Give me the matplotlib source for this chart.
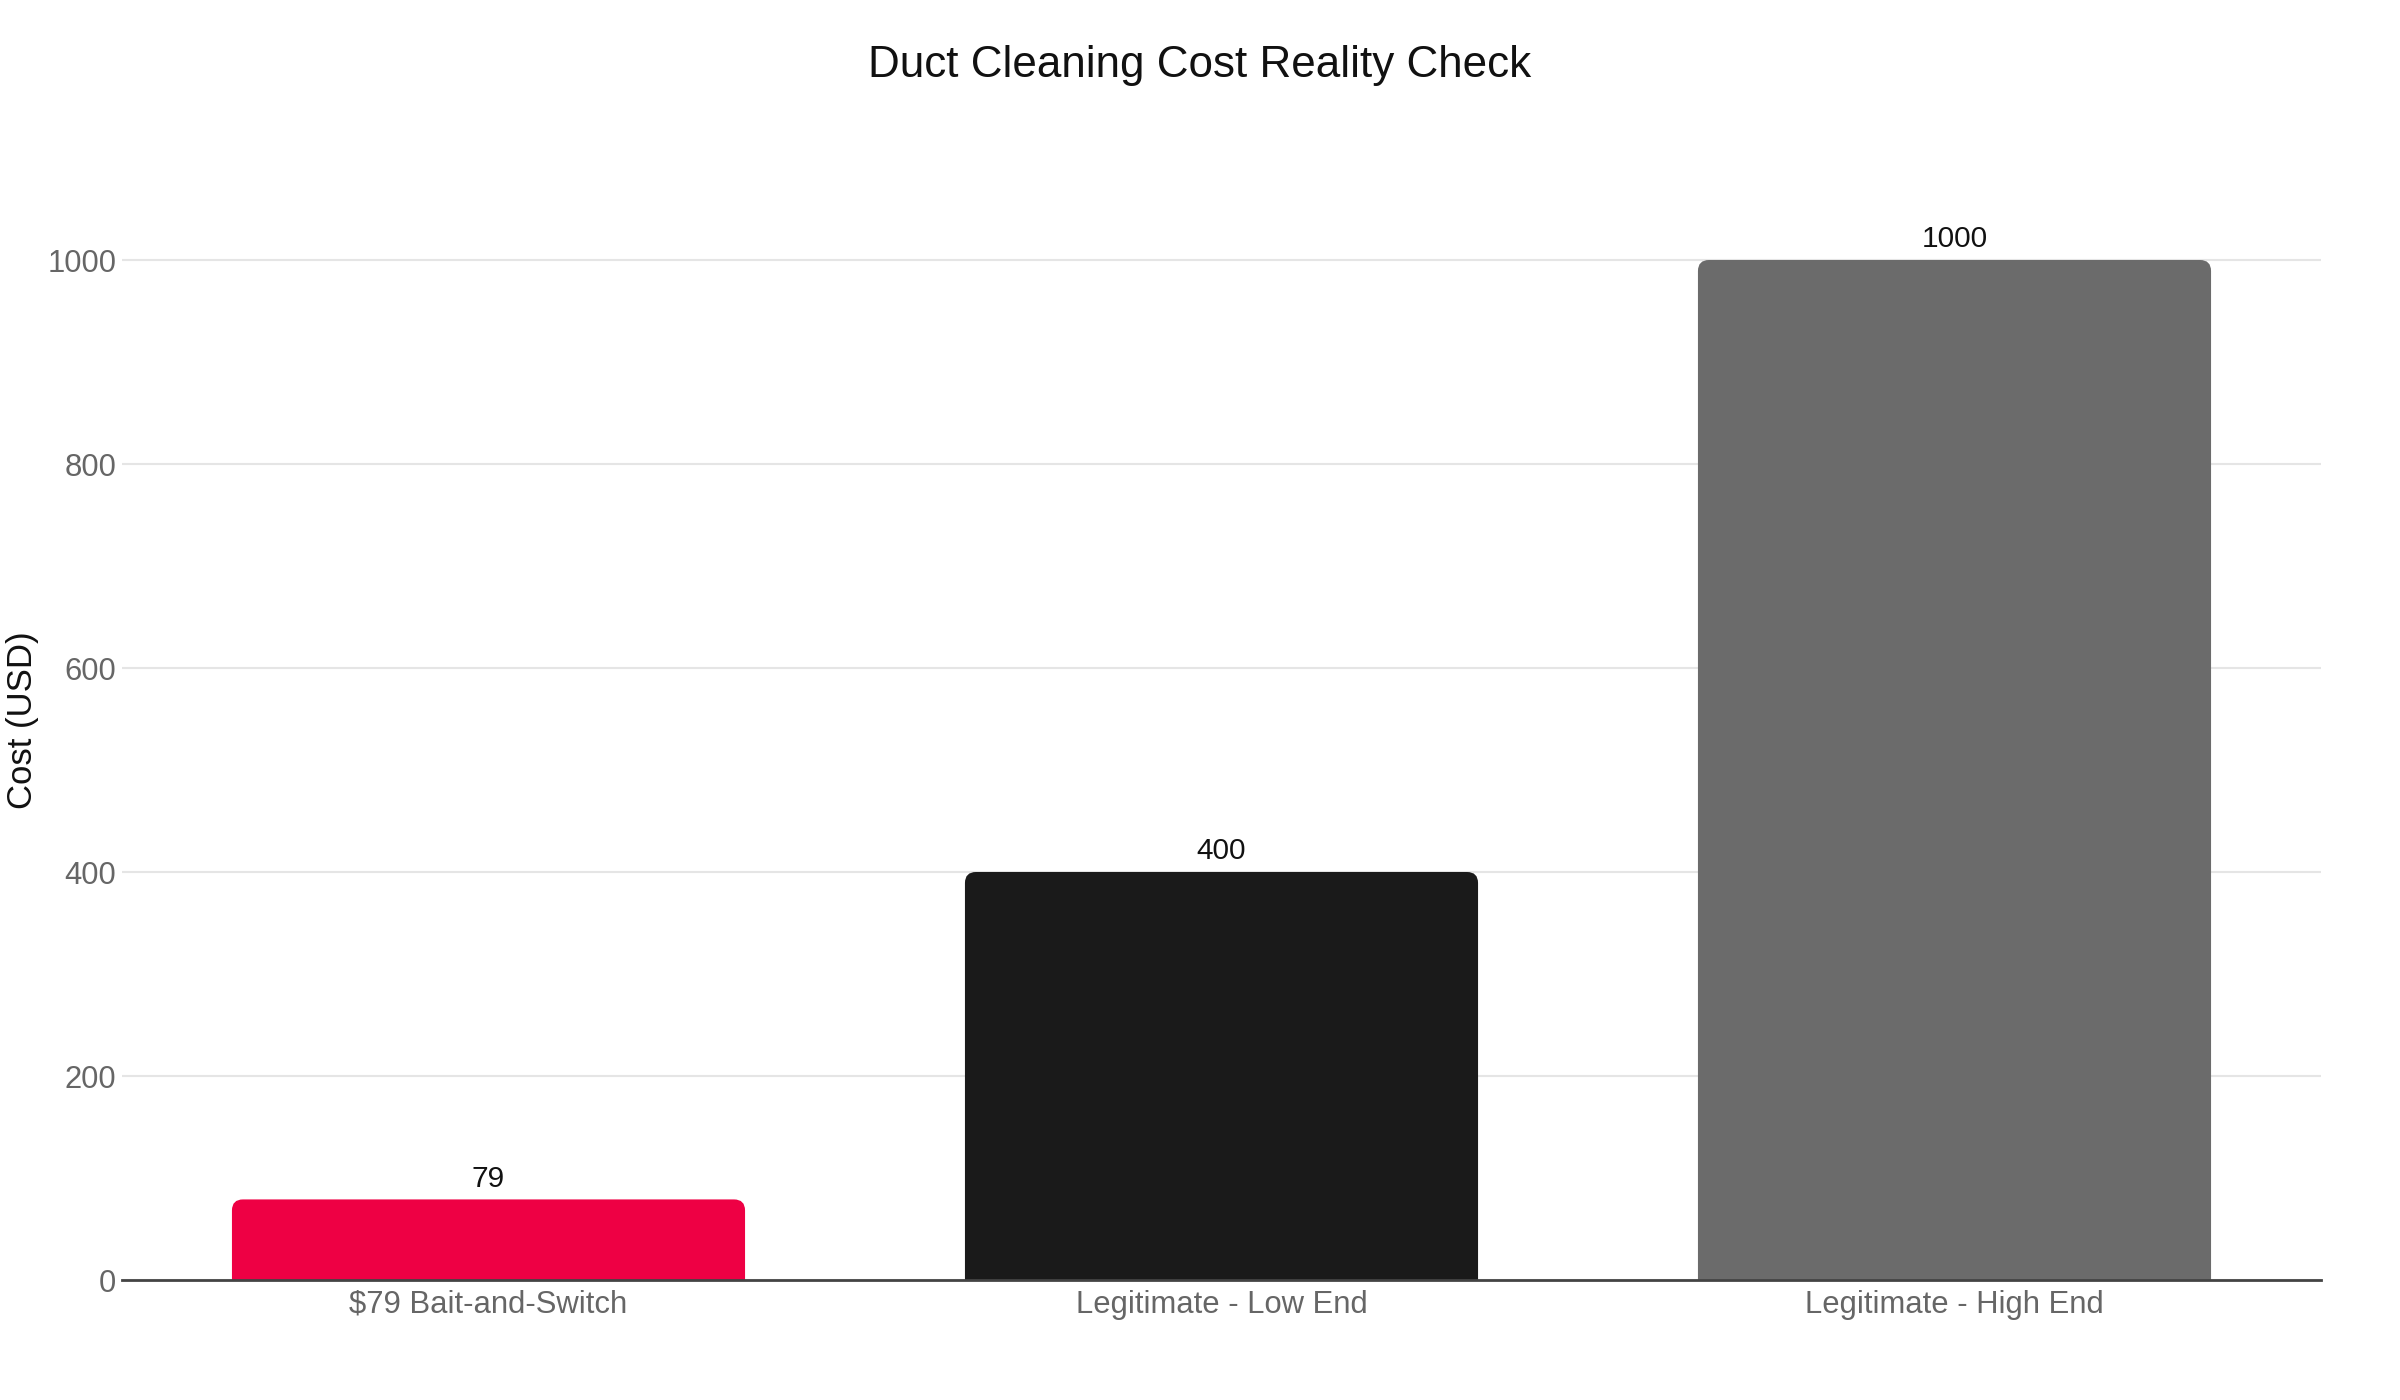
import matplotlib
matplotlib.use("Agg")
import matplotlib.pyplot as plt
from matplotlib.path import Path
from matplotlib.patches import PathPatch

plt.rcParams['font.family'] = ['Liberation Sans', 'DejaVu Sans']

categories = ["$79 Bait-and-Switch", "Legitimate - Low End", "Legitimate - High End"]
costs = [79, 400, 1000]
colors = ["#EE0044", "#1A1A1A", "#6B6B6B"]
yticks = [0, 200, 400, 600, 800, 1000]

W, H, DPI = 24, 14, 100
fig = plt.figure(figsize=(W, H), dpi=DPI)
# plot area in pixels
left_px, right_px, top_px, bottom_px = 122, 2321, 160, 1280
ax = fig.add_axes([left_px / 2400, 1 - bottom_px / 1400,
                   (right_px - left_px) / 2400, (bottom_px - top_px) / 1400])

x = list(range(len(categories)))
bars = ax.bar(x, costs, width=0.7, color=colors)
ymax = 1000 + (260 - top_px) / 1.02
ax.set_xlim(-0.5, len(categories) - 0.5)
ax.set_ylim(0, ymax)

# rounded top corners
px_per_x = (right_px - left_px) / (len(categories))
px_per_y = (bottom_px - top_px) / ymax
r = 11
for b, c in zip(bars, colors):
    b.set_visible(False)
    x0, y0 = b.get_x(), b.get_y()
    w, h = b.get_width(), b.get_height()
    rx = r / px_per_x
    ry = min(r / px_per_y, h)
    x1, y1 = x0 + w, y0 + h
    verts = [(x0, y0), (x0, y1 - ry), (x0, y1), (x0 + rx, y1),
             (x1 - rx, y1), (x1, y1), (x1, y1 - ry), (x1, y0), (x0, y0)]
    codes = [Path.MOVETO, Path.LINETO, Path.CURVE3, Path.CURVE3,
             Path.LINETO, Path.CURVE3, Path.CURVE3, Path.LINETO, Path.CLOSEPOLY]
    ax.add_patch(PathPatch(Path(verts, codes), facecolor=c, edgecolor='none', zorder=2))

for xi, v in zip(x, costs):
    ax.annotate(str(v), (xi, v), xytext=(0, 15), textcoords='offset points',
                ha='center', va='center', fontsize=21.5, color='#111111')

ax.set_yticks(yticks)
ax.set_xticks(x)
ax.set_xticklabels(categories)
ax.tick_params(axis='both', length=0, labelsize=22.3, labelcolor='#666666')
ax.tick_params(axis='x', pad=7)
ax.tick_params(axis='y', pad=4)
ax.grid(axis='y', color='#E5E5E5', linewidth=1.5, zorder=0)
ax.set_axisbelow(True)
for s in ['top', 'right', 'left']:
    ax.spines[s].set_visible(False)
ax.spines['bottom'].set_color('#444444')
ax.spines['bottom'].set_linewidth(2)
ax.spines['bottom'].set_zorder(3)

fig.text(23 / 2400, 1 - 720 / 1400, "Cost (USD)", rotation=90, ha='center', va='center',
         fontsize=25, color='#111111')

fig.text(0.5, 1 - 66 / 1400, "Duct Cleaning Cost Reality Check", ha='center', va='center',
         fontsize=31.7, color='#111111')

fig.savefig("out.png", dpi=DPI, facecolor='white')
